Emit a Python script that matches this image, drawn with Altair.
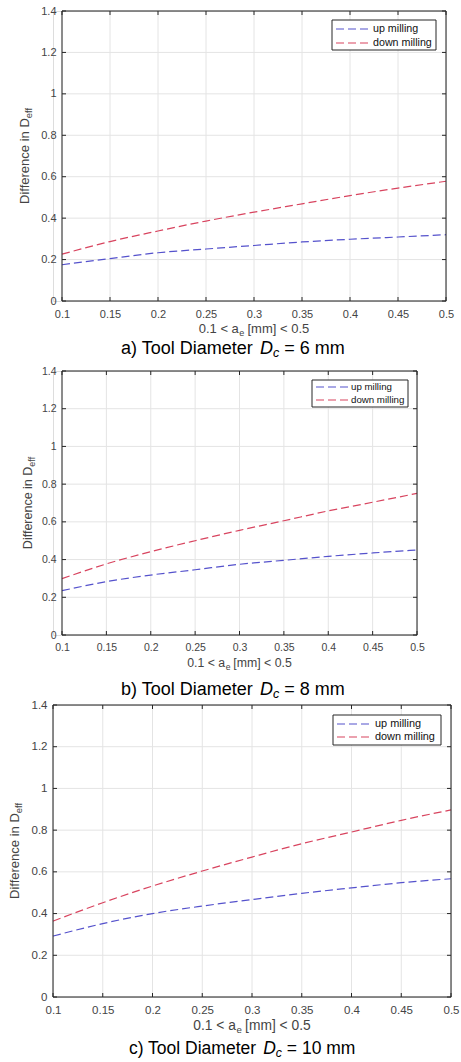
import altair as alt
import pandas as pd

# ---- data: difference in effective diameter vs. radial depth of cut ----
AE = [0.10, 0.15, 0.20, 0.25, 0.30, 0.35, 0.40, 0.45, 0.50]

UP_6 = [0.175, 0.205, 0.233, 0.251, 0.268, 0.285, 0.298, 0.309, 0.320]
DOWN_6 = [0.226, 0.287, 0.338, 0.386, 0.429, 0.469, 0.509, 0.545, 0.578]

UP_8 = [0.235, 0.283, 0.318, 0.346, 0.375, 0.396, 0.417, 0.435, 0.451]
DOWN_8 = [0.299, 0.377, 0.442, 0.500, 0.555, 0.606, 0.658, 0.704, 0.751]

UP_10 = [0.292, 0.352, 0.400, 0.436, 0.467, 0.497, 0.523, 0.548, 0.567]
DOWN_10 = [0.364, 0.452, 0.532, 0.604, 0.671, 0.735, 0.791, 0.847, 0.897]

SERIES = ["up milling", "down milling"]
X_TICKS = [0.1, 0.15, 0.2, 0.25, 0.3, 0.35, 0.4, 0.45, 0.5]
Y_TICKS = [0, 0.2, 0.4, 0.6, 0.8, 1.0, 1.2, 1.4]
CAPTION_HEAD = ["a) Tool Diameter ", "b) Tool Diameter ", "c) Tool Diameter "]
CAPTION_TAIL = [" = 6 mm", " = 8 mm", " = 10 mm"]

FONT = "Liberation Sans"
BLUE = "#5552cc"
RED = "#d8445f"
GRID = "#e4e4e4"
AXIS = "#262626"
LABEL = "#444444"

# Arial / Liberation Sans advance widths (per 1000 em)
ADV = {" ": 278, ")": 333, "a": 556, "b": 556, "c": 500, "T": 611, "o": 556,
       "l": 222, "D": 722, "i": 222, "m": 833, "e": 556, "t": 278, "r": 333,
       "=": 584, ".": 278, "<": 584, "[": 278, "]": 278, "f": 278, "n": 556}


def tw(s, size):
    return sum(ADV.get(ch, 556) for ch in s) * size / 1000.0


ONE = pd.DataFrame({"k": [0]})


def txt(text, x, y, size, **kw):
    return alt.Chart(ONE).mark_text(
        text=text, font=FONT, fontSize=size, align=kw.pop("align", "left"),
        baseline=kw.pop("baseline", "alphabetic"), **kw
    ).encode(x=alt.value(x), y=alt.value(y))


def panel(up, down, idx, lay):
    left, width, height = lay["left"], lay["width"], lay["height"]
    xs = alt.Scale(domain=[0.1, 0.5], range=[left, width], nice=False, zero=False)
    ys = alt.Scale(domain=[0, 1.4], nice=False, zero=False)
    tick_f = lay["tick_font"]

    x_axis = alt.Axis(values=X_TICKS, format=".2~f", title=None, grid=False,
                      domain=False, ticks=False, labelPadding=7, labelFont=FONT,
                      labelFontSize=tick_f, labelColor=LABEL, labelFlush=False,
                      labelOverlap=False, labelBound=False)
    y_axis = alt.Axis(values=Y_TICKS, format=".1~f", title=None, grid=False,
                      domain=False, ticks=False, labelPadding=6, offset=-left,
                      labelFont=FONT, labelFontSize=tick_f, labelColor=LABEL,
                      labelOverlap=False, labelBound=False)

    def X(field=None, datum=None):
        if field is not None:
            return alt.X(field, scale=xs, axis=x_axis)
        return alt.X(datum=datum, scale=xs, axis=x_axis)

    def Y(field=None, datum=None):
        if field is not None:
            return alt.Y(field, scale=ys, axis=y_axis)
        return alt.Y(datum=datum, scale=ys, axis=y_axis)

    # grid
    vgrid = alt.Chart(pd.DataFrame({"t": X_TICKS})).mark_rule(
        color=GRID, strokeWidth=1).encode(x=X("t:Q"), y=Y(datum=0), y2=alt.Y2(datum=1.4))
    hgrid = alt.Chart(pd.DataFrame({"t": Y_TICKS})).mark_rule(
        color=GRID, strokeWidth=1).encode(y=Y("t:Q"), x=X(datum=0.1), x2=alt.X2(datum=0.5))

    # inward tick marks on all four sides (4 px long)
    dy = 4 * 1.4 / height
    dx = 4 * 0.4 / (width - left)
    xt = pd.DataFrame({"t": X_TICKS})
    yt = pd.DataFrame({"t": Y_TICKS})
    tick_layers = []
    for y0, y1 in [(0, dy), (1.4, 1.4 - dy)]:
        tick_layers.append(alt.Chart(xt).mark_rule(color=AXIS, strokeWidth=1).encode(
            x=X("t:Q"), y=Y(datum=y0), y2=alt.Y2(datum=y1)))
    for x0, x1 in [(0.1, 0.1 + dx), (0.5, 0.5 - dx)]:
        tick_layers.append(alt.Chart(yt).mark_rule(color=AXIS, strokeWidth=1).encode(
            y=Y("t:Q"), x=X(datum=x0), x2=alt.X2(datum=x1)))

    # curves
    df = pd.DataFrame({
        "ae": AE * 2,
        "d": up + down,
        "mode": [SERIES[0]] * len(AE) + [SERIES[1]] * len(AE),
    })
    lines = alt.Chart(df).mark_line(
        strokeDash=[8, 4], strokeWidth=1.2, interpolate="monotone").encode(
        x=X("ae:Q"),
        y=Y("d:Q"),
        color=alt.Color("mode:N", scale=alt.Scale(domain=SERIES, range=[BLUE, RED]),
                        legend=None),
    )

    # axes box
    box = alt.Chart(ONE).mark_rect(fillOpacity=0, stroke=AXIS, strokeWidth=1).encode(
        x=X(datum=0.1), x2=alt.X2(datum=0.5),
        y=Y(datum=0), y2=alt.Y2(datum=1.4))

    # legend box
    lw, lh, ltop = lay["leg_w"], lay["leg_h"], lay["leg_top"]
    lx = width - lay["leg_right"] - lw
    legend = [alt.Chart(ONE).mark_rect(fill="white", stroke=AXIS, strokeWidth=1).encode(
        x=alt.value(lx), x2=alt.value(lx + lw), y=alt.value(ltop), y2=alt.value(ltop + lh))]
    for name, color, ry in zip(SERIES, [BLUE, RED], lay["leg_rows"]):
        sx = lx + 4
        legend.append(alt.Chart(ONE).mark_rule(
            color=color, strokeWidth=1.2, strokeDash=[8, 4]).encode(
            x=alt.value(sx), x2=alt.value(sx + lay["leg_sym"]), y=alt.value(ry)))
        legend.append(txt(name, sx + lay["leg_sym"] + 2, ry, lay["leg_font"],
                          baseline="middle", color="#111111"))

    # y-axis title: "Difference in D" with subscript "eff"
    yt_f = lay["title_font"]
    sub_f = yt_f * 0.72
    w_main = tw("Difference in D", yt_f)
    w_sub = tw("eff", sub_f)
    yc = height / 2
    split = yc + (w_main + w_sub) / 2 - w_main
    xb = lay["ytitle_c"] + 0.36 * yt_f
    ytitle = [
        txt("Difference in D", xb, split, yt_f, angle=270, align="right", color=LABEL),
        txt("eff", xb + 3.5, split, sub_f, angle=270, align="left", color=LABEL),
    ]

    # x-axis title: "0.1 < a" with subscript "e" then " [mm] < 0.5"
    xt_f = lay["xtitle_font"]
    xsub_f = xt_f * 0.7
    w1 = tw("0.1 < a", xt_f)
    we = tw("e", xsub_f)
    w3 = tw(" [mm] < 0.5", xt_f)
    xs0 = (left + width) / 2 - (w1 + we + w3) / 2
    yb = height + lay["xtitle_dy"]
    xtitle = [
        txt("0.1 < a", xs0, yb, xt_f, color=LABEL),
        txt("e", xs0 + w1 + 0.5, yb + 2.5, xsub_f, color=LABEL),
        txt("[mm] < 0.5", xs0 + w1 + we + tw(" ", xt_f), yb, xt_f, color=LABEL),
    ]

    # caption: "x) Tool Diameter D_c = N mm"
    cf = lay["cap_font"]
    cb = height + lay["cap_dy"]
    c0 = lay["cap_x"]
    head = CAPTION_HEAD[idx]
    tail = CAPTION_TAIL[idx]
    wh = tw(head, cf)
    wd = tw("D", cf)
    wc = tw("c", cf * 0.7)
    caption = [
        txt(head.strip(), c0, cb, cf, color="black"),
        txt("D", c0 + wh, cb, cf, fontStyle="italic", color="black"),
        txt("c", c0 + wh + wd, cb + 3, cf * 0.7, fontStyle="italic", color="black"),
        txt(tail.strip(), c0 + wh + wd + wc + tw(" ", cf), cb, cf, color="black"),
    ]

    return alt.layer(vgrid, hgrid, *tick_layers, lines, box, *legend,
                     *ytitle, *xtitle, *caption).properties(width=width, height=height)


LAYOUTS = [
    dict(left=9, width=393, height=290, tick_font=11, title_font=13, xtitle_font=13,
         ytitle_c=-29, xtitle_dy=32, cap_font=18, cap_dy=53, cap_x=68,
         leg_w=104, leg_h=30, leg_top=9, leg_right=10, leg_rows=[18, 32],
         leg_sym=35, leg_font=10.7),
    dict(left=9, width=364, height=264, tick_font=10.5, title_font=12.5, xtitle_font=12.3,
         ytitle_c=-26, xtitle_dy=32, cap_font=18, cap_dy=60, cap_x=68,
         leg_w=96, leg_h=27, leg_top=9, leg_right=9, leg_rows=[16, 29],
         leg_sym=33, leg_font=9.7),
    dict(left=0, width=398, height=292, tick_font=11.5, title_font=13, xtitle_font=13.8,
         ytitle_c=-39, xtitle_dy=33, cap_font=17.5, cap_dy=57, cap_x=76,
         leg_w=108, leg_h=30, leg_top=10, leg_right=10, leg_rows=[19, 32],
         leg_sym=36, leg_font=10.9),
]

panels = [
    panel(UP_6, DOWN_6, 0, LAYOUTS[0]),
    panel(UP_8, DOWN_8, 1, LAYOUTS[1]),
    panel(UP_10, DOWN_10, 2, LAYOUTS[2]),
]

chart = alt.vconcat(*panels, spacing=70, bounds="flush").properties(
    padding={"left": 8, "top": 4, "right": 0, "bottom": 0}
).configure_view(stroke=None).configure(background="white")

chart.save("out.html", embed_options={"renderer": "svg", "actions": False})
